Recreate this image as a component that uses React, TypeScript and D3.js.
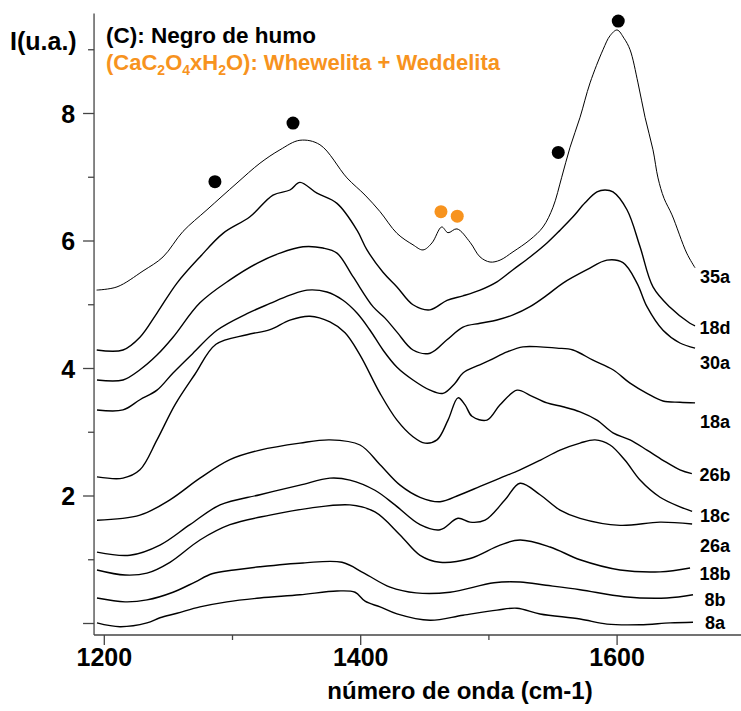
import React from 'react';
import * as d3 from 'd3';

type Pt = [number, number];

const s35a: Pt[] = [
  [1194.0, 5.23], [1209.9, 5.28], [1230.2, 5.53], [1245.8, 5.75], [1261.4, 6.15], [1280.1, 6.49],
  [1303.5, 6.91], [1321.4, 7.22], [1337.0, 7.43], [1352.6, 7.58], [1368.2, 7.51], [1389.3, 6.99],
  [1403.4, 6.72], [1415.1, 6.46], [1428.3, 6.12], [1440.8, 5.94], [1448.6, 5.86], [1455.6, 5.97],
  [1463.2, 6.22], [1468.1, 6.13], [1475.1, 6.19], [1485.3, 5.98], [1493.1, 5.75], [1500.9, 5.67],
  [1508.7, 5.70], [1518.8, 5.83], [1532.1, 6.02], [1542.2, 6.22], [1550.0, 6.53], [1556.8, 7.00],
  [1563.3, 7.47], [1571.1, 7.94], [1578.9, 8.48], [1589.0, 9.00], [1594.5, 9.22], [1600.0, 9.31],
  [1605.4, 9.18], [1610.1, 9.00], [1616.3, 8.48], [1621.8, 7.94], [1628.0, 7.43], [1631.9, 6.99],
  [1636.6, 6.67], [1642.8, 6.41], [1654.3, 5.81], [1660.8, 5.58],
];
const s18d: Pt[] = [
  [1194.1, 4.29], [1214.6, 4.29], [1227.8, 4.49], [1241.1, 4.87], [1256.7, 5.34], [1274.6, 5.75],
  [1292.6, 6.12], [1313.6, 6.38], [1331.6, 6.72], [1344.8, 6.80], [1352.6, 6.92], [1365.9, 6.75],
  [1381.5, 6.59], [1397.1, 6.17], [1404.9, 5.86], [1417.4, 5.51], [1428.3, 5.28], [1440.8, 5.00],
  [1454.1, 4.92], [1467.3, 5.07], [1479.8, 5.14], [1493.1, 5.23], [1506.3, 5.36], [1518.8, 5.55],
  [1532.1, 5.75], [1545.3, 5.97], [1555.5, 6.17], [1565.6, 6.38], [1575.0, 6.60], [1584.3, 6.77],
  [1590.6, 6.80], [1596.8, 6.77], [1607.7, 6.49], [1617.9, 5.91], [1628.0, 5.28], [1641.3, 4.96],
  [1656.8, 4.71], [1660.8, 4.67],
];
const s30a: Pt[] = [
  [1194.3, 3.82], [1214.6, 3.82], [1227.8, 3.98], [1241.1, 4.21], [1253.6, 4.49], [1274.6, 5.03],
  [1298.0, 5.39], [1319.1, 5.65], [1337.0, 5.81], [1355.0, 5.91], [1370.6, 5.89], [1381.5, 5.81],
  [1394.0, 5.44], [1409.6, 4.97], [1419.0, 4.79], [1428.3, 4.57], [1440.8, 4.29], [1454.1, 4.24],
  [1467.3, 4.45], [1479.8, 4.65], [1493.1, 4.71], [1506.3, 4.76], [1518.8, 4.84], [1532.1, 4.97],
  [1545.3, 5.15], [1557.8, 5.34], [1576.5, 5.55], [1592.1, 5.70], [1604.6, 5.66], [1615.5, 5.34],
  [1623.3, 4.97], [1635.8, 4.60], [1649.0, 4.40], [1660.8, 4.32],
];
const s18a: Pt[] = [
  [1194.3, 3.35], [1214.6, 3.35], [1227.8, 3.51], [1241.1, 3.66], [1253.6, 3.93], [1269.2, 4.24],
  [1287.9, 4.60], [1311.3, 4.86], [1329.3, 5.02], [1344.8, 5.15], [1358.1, 5.23], [1373.7, 5.20],
  [1386.2, 5.07], [1397.1, 4.87], [1407.3, 4.60], [1417.4, 4.29], [1428.3, 4.02], [1440.8, 3.82],
  [1454.1, 3.66], [1464.2, 3.61], [1473.6, 3.77], [1479.8, 3.93], [1490.7, 4.04], [1500.9, 4.13],
  [1514.1, 4.26], [1526.6, 4.34], [1539.9, 4.34], [1553.1, 4.32], [1565.6, 4.29], [1581.2, 4.13],
  [1596.8, 3.98], [1610.1, 3.77], [1623.3, 3.61], [1635.8, 3.49], [1649.0, 3.47], [1660.8, 3.46],
];
const s26b: Pt[] = [
  [1194.3, 2.30], [1214.6, 2.28], [1227.8, 2.41], [1241.1, 2.88], [1255.1, 3.43], [1270.7, 3.91],
  [1287.1, 4.38], [1311.3, 4.53], [1329.3, 4.61], [1344.8, 4.76], [1360.4, 4.82], [1376.0, 4.73],
  [1387.8, 4.56], [1399.5, 4.21], [1415.1, 3.61], [1428.3, 3.19], [1440.8, 2.93], [1450.2, 2.83],
  [1459.5, 2.88], [1468.1, 3.19], [1475.9, 3.54], [1481.4, 3.43], [1486.8, 3.25], [1498.5, 3.19],
  [1508.7, 3.43], [1522.0, 3.66], [1532.1, 3.58], [1545.3, 3.46], [1557.8, 3.40], [1571.1, 3.32],
  [1584.3, 3.19], [1596.8, 2.99], [1610.1, 2.88], [1623.3, 2.72], [1635.8, 2.56], [1649.0, 2.41],
  [1658.3, 2.35],
];
const s18c: Pt[] = [
  [1194.3, 1.62], [1227.8, 1.70], [1251.2, 1.94], [1274.6, 2.28], [1298.0, 2.57], [1321.4, 2.72],
  [1352.6, 2.83], [1376.0, 2.88], [1399.5, 2.80], [1415.1, 2.49], [1430.7, 2.17], [1446.3, 1.98],
  [1461.9, 1.91], [1477.5, 2.02], [1493.1, 2.15], [1508.7, 2.28], [1524.3, 2.41], [1539.9, 2.56],
  [1555.5, 2.72], [1571.1, 2.83], [1582.8, 2.88], [1594.5, 2.80], [1606.2, 2.56], [1617.9, 2.25],
  [1633.5, 1.98], [1649.1, 1.83], [1658.5, 1.76],
];
const s26a: Pt[] = [
  [1194.3, 1.12], [1220.0, 1.07], [1243.4, 1.23], [1266.8, 1.55], [1290.3, 1.86], [1321.4, 2.02],
  [1352.6, 2.17], [1376.0, 2.28], [1391.6, 2.25], [1411.1, 2.09], [1426.7, 1.86], [1446.3, 1.55],
  [1461.9, 1.47], [1475.9, 1.65], [1485.3, 1.59], [1497.0, 1.62], [1512.6, 1.94], [1524.3, 2.20],
  [1539.9, 2.02], [1555.5, 1.78], [1571.1, 1.65], [1602.3, 1.54], [1633.5, 1.59], [1658.5, 1.56],
];
const s18b: Pt[] = [
  [1194.3, 0.84], [1216.2, 0.76], [1233.3, 0.79], [1251.2, 0.96], [1274.6, 1.31], [1298.0, 1.55],
  [1329.2, 1.70], [1360.4, 1.81], [1391.6, 1.86], [1411.1, 1.75], [1430.7, 1.39], [1446.3, 1.07],
  [1461.9, 0.96], [1485.3, 1.02], [1508.7, 1.23], [1524.3, 1.31], [1547.7, 1.20], [1571.1, 1.00],
  [1602.3, 0.84], [1633.5, 0.81], [1656.9, 0.87],
];
const s8b: Pt[] = [
  [1194.3, 0.40], [1216.2, 0.34], [1233.3, 0.37], [1253.6, 0.49], [1270.7, 0.65], [1284.0, 0.78],
  [1301.2, 0.84], [1321.4, 0.89], [1355.0, 0.95], [1385.4, 0.96], [1402.6, 0.79], [1422.9, 0.57],
  [1443.1, 0.48], [1469.6, 0.49], [1504.0, 0.64], [1524.3, 0.65], [1544.5, 0.60], [1571.1, 0.53],
  [1605.4, 0.42], [1638.9, 0.40], [1659.2, 0.45],
];
const s8a: Pt[] = [
  [1194.3, 0.01], [1212.2, -0.05], [1233.3, 0.01], [1243.4, 0.09], [1256.7, 0.16], [1274.6, 0.26],
  [1295.7, 0.34], [1321.4, 0.40], [1352.6, 0.45], [1381.5, 0.51], [1395.6, 0.49], [1403.4, 0.35],
  [1415.1, 0.26], [1428.3, 0.15], [1454.1, 0.05], [1479.8, 0.13], [1506.3, 0.21], [1521.9, 0.24],
  [1539.9, 0.15], [1571.1, 0.07], [1592.1, -0.01], [1617.9, -0.02], [1641.3, 0.01], [1659.2, 0.02],
];

const traceNames = ['35a', '18d', '30a', '18a', '26b', '18c', '26a', '18b', '8b', '8a'];
const traceData = [s35a, s18d, s30a, s18a, s26b, s18c, s26a, s18b, s8b, s8a];
const labelY = [5.44, 4.64, 4.1, 3.17, 2.33, 1.69, 1.23, 0.78, 0.38, 0.01];

const blackDots: Pt[] = [[1286.3, 6.93], [1347.2, 7.85], [1554.1, 7.39], [1600.9, 9.45]];
const orangeDots: Pt[] = [[1462.6, 6.46], [1475.3, 6.39]];

const xTicksMajor = [1200, 1400, 1600];
const xTicksMinor = [1300, 1500];
const yTicksMajor = [0, 2, 4, 6, 8];
const yTickLabels = ['', '2', '4', '6', '8'];
const yTicksMinor = [1, 3, 5, 7, 9];

const ORANGE = '#f7931e';
const FONT = '"Liberation Sans", Arial, Helvetica, sans-serif';

export default function App() {
  const x = d3.scaleLinear().domain([1200, 1600]).range([104.3, 617.1]);
  const y = d3.scaleLinear().domain([0, 8]).range([623.5, 113.5]);
  const axisX = x(1192);
  const axisY = y(-0.18);
  const topY = y(9.57);
  const line = d3
    .line<Pt>()
    .x((d) => x(d[0]))
    .y((d) => y(d[1]))
    .curve(d3.curveCatmullRom.alpha(0.5));

  return (
    <svg
      width={741}
      height={711}
      style={{ position: 'absolute', left: 0, top: 0, background: '#fff' }}
      fontFamily={FONT}
    >
      <rect x={0} y={0} width={741} height={711} fill="#fff" />
      <line x1={axisX} x2={axisX} y1={topY} y2={axisY} stroke="#444" strokeWidth={1.3} />
      <line x1={axisX} x2={741} y1={axisY} y2={axisY} stroke="#444" strokeWidth={1.3} />
      {yTicksMajor.map((t, i) => (
        <g key={'ym' + t}>
          <line x1={axisX - 11} x2={axisX} y1={y(t)} y2={y(t)} stroke="#444" strokeWidth={1.3} />
          {yTickLabels[i] && (
            <text x={axisX - 19} y={y(t)} dy="0.36em" textAnchor="end" fontSize={25} fontWeight="bold" fill="#000">
              {yTickLabels[i]}
            </text>
          )}
        </g>
      ))}
      {yTicksMinor.map((t) => (
        <line key={'yn' + t} x1={axisX - 6} x2={axisX} y1={y(t)} y2={y(t)} stroke="#444" strokeWidth={1.3} />
      ))}
      {xTicksMajor.map((t) => (
        <g key={'xm' + t}>
          <line x1={x(t)} x2={x(t)} y1={axisY} y2={axisY + 10} stroke="#444" strokeWidth={1.3} />
          <text x={x(t)} y={axisY + 31} textAnchor="middle" fontSize={25} fontWeight="bold" fill="#000">
            {t}
          </text>
        </g>
      ))}
      {xTicksMinor.map((t) => (
        <line key={'xn' + t} x1={x(t)} x2={x(t)} y1={axisY} y2={axisY + 5} stroke="#444" strokeWidth={1.3} />
      ))}
      <text x={460} y={699} textAnchor="middle" fontSize={24} fontWeight="bold" fill="#000">
        número de onda (cm-1)
      </text>
      <text x={10} y={50} fontSize={25} fontWeight="bold" fill="#000">
        I(u.a.)
      </text>
      <text x={106} y={43} fontSize={22.5} fontWeight="bold" fill="#000">
        (C): Negro de humo
      </text>
      <text x={106} y={70} fontSize={22} fontWeight="bold" fill={ORANGE}>
        (CaC<tspan fontSize={14} dy={5}>2</tspan>
        <tspan dy={-5}>O</tspan>
        <tspan fontSize={14} dy={5}>4</tspan>
        <tspan dy={-5}>xH</tspan>
        <tspan fontSize={14} dy={5}>2</tspan>
        <tspan dy={-5}>O): Whewelita + Weddelita</tspan>
      </text>
      {traceData.map((d, i) => (
        <path key={traceNames[i]} d={line(d) || ''} fill="none" stroke="#000" strokeWidth={i === 0 ? 1 : 1.4} />
      ))}
      {traceNames.map((n, i) => (
        <text key={'l' + n} x={715} y={y(labelY[i])} dy="0.36em" textAnchor="middle" fontSize={18} fontWeight="bold" fill="#000">
          {n}
        </text>
      ))}
      {blackDots.map((d, i) => (
        <circle key={'b' + i} cx={x(d[0])} cy={y(d[1])} r={6.5} fill="#000" />
      ))}
      {orangeDots.map((d, i) => (
        <circle key={'o' + i} cx={x(d[0])} cy={y(d[1])} r={6.5} fill={ORANGE} />
      ))}
    </svg>
  );
}
